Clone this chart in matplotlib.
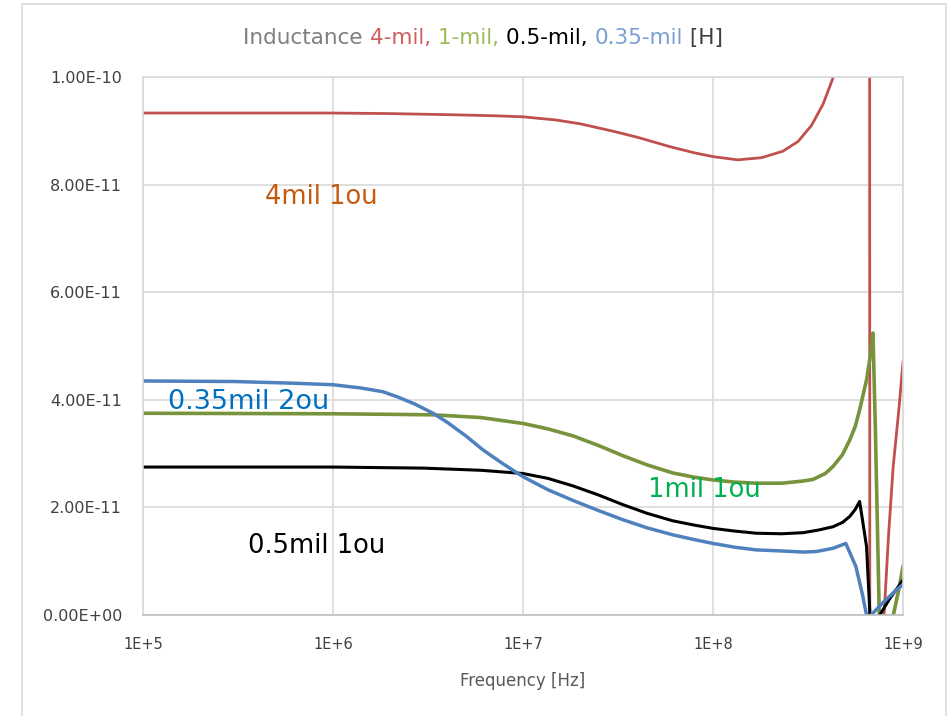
import numpy as np
import matplotlib
matplotlib.use("Agg")
import matplotlib.pyplot as plt
from matplotlib.ticker import FixedLocator, FuncFormatter, NullLocator
from matplotlib.patches import Rectangle

# frequency [Hz] and inductance [pH], one set per trace
f_4mil = [1e5, 3e5, 1e6, 2e6, 4e6, 7e6, 1e7, 1.5e7, 2e7, 3e7, 4e7, 6e7, 8e7,
          1e8, 1.35e8, 1.8e8, 2.33e8, 2.8e8, 3.3e8, 3.8e8, 4.3e8, 4.8e8,
          6e8, 6.65e8, 6.7e8, 7.5e8, 7.95e8, 8.4e8, 8.88e8, 9.5e8, 1e9]
L_4mil = [93.3, 93.3, 93.3, 93.2, 93.0, 92.8, 92.6, 92.0, 91.3, 89.9, 88.8, 87.0, 85.9,
          85.2, 84.6, 85.0, 86.2, 88.0, 91.0, 95.0, 100.0, 108.0,
          160.0, 300.0, -100.0, -20.0, 0.0, 15.0, 27.6, 38.0, 47.0]

f_1mil = [1e5, 1e6, 2e6, 3.4e6, 6e6, 1e7, 1.35e7, 1.83e7, 2.5e7, 3.36e7, 4.5e7,
          6.15e7, 8e7, 1e8, 1.3e8, 1.69e8, 2.3e8, 2.98e8, 3.36e8, 3.9e8, 4.28e8,
          4.8e8, 5.24e8, 5.6e8, 5.91e8, 6.43e8, 6.75e8, 6.95e8, 7.15e8, 7.5e8,
          8e8, 8.9e8, 9.5e8, 1e9]
L_1mil = [37.5, 37.4, 37.3, 37.2, 36.7, 35.6, 34.6, 33.3, 31.5, 29.6, 27.9,
          26.4, 25.6, 25.1, 24.7, 24.5, 24.5, 24.9, 25.2, 26.3, 27.6,
          29.8, 32.5, 35.0, 38.1, 43.7, 48.5, 52.4, 35.0, 0.0,
          -15.0, 0.0, 4.7, 9.0]

f_05mil = [1e5, 1e6, 3e6, 6e6, 1e7, 1.35e7, 1.83e7, 2.5e7, 3.36e7, 4.5e7, 6.15e7,
           8e7, 1e8, 1.3e8, 1.69e8, 2.3e8, 2.98e8, 3.6e8, 4.28e8, 4.8e8, 5.24e8,
           5.6e8, 5.91e8, 6.1e8, 6.43e8, 6.7e8, 7.1e8, 7.55e8, 8.5e8, 1e9]
L_05mil = [27.5, 27.5, 27.3, 26.9, 26.3, 25.4, 24.0, 22.3, 20.5, 18.9, 17.5,
           16.7, 16.1, 15.6, 15.2, 15.1, 15.3, 15.8, 16.4, 17.2, 18.3,
           19.6, 21.1, 18.0, 12.7, 0.0, -5.0, 0.0, 3.0, 6.5]

f_035mil = [1e5, 3e5, 6e5, 1e6, 1.4e6, 1.83e6, 2.2e6, 2.7e6, 3.36e6, 4e6, 5e6,
            6.15e6, 7.7e6, 1e7, 1.35e7, 1.83e7, 2.5e7, 3.36e7, 4.5e7, 6.15e7,
            8e7, 1e8, 1.3e8, 1.69e8, 2.3e8, 2.98e8, 3.5e8, 4.28e8, 5e8, 5.65e8,
            6.1e8, 6.43e8, 6.6e8, 6.8e8, 8e8, 9e8, 1e9]
L_035mil = [43.5, 43.4, 43.1, 42.8, 42.2, 41.5, 40.5, 39.2, 37.5, 35.8, 33.3,
            30.7, 28.3, 25.7, 23.3, 21.3, 19.4, 17.7, 16.2, 14.9,
            14.0, 13.3, 12.6, 12.1, 11.9, 11.7, 11.8, 12.4, 13.3, 9.0,
            4.0, 0.0, -1.0, 0.0, 2.6, 4.3, 5.7]

x_ticks = [1e5, 1e6, 1e7, 1e8, 1e9]
y_ticks = [0, 2e-11, 4e-11, 6e-11, 8e-11, 1e-10]

red = "#C0504D"
green = "#77933C"
blue = "#4F81BD"

fig = plt.figure(figsize=(9.48, 7.16), dpi=100)
fig.patches.append(Rectangle((22 / 948, -0.05), 924 / 948, 1.05 - 4 / 716,
                             transform=fig.transFigure, fill=False,
                             edgecolor="#D9D9D9", linewidth=1.2))
ax = fig.add_axes([143 / 948, 1 - 615 / 716, 760 / 948, 538 / 716])

pH = 1e-12
ax.plot(f_4mil, np.array(L_4mil) * pH, color=red, lw=2.0)
ax.plot(f_1mil, np.array(L_1mil) * pH, color=green, lw=2.6)
ax.plot(f_05mil, np.array(L_05mil) * pH, color="black", lw=2.2)
ax.plot(f_035mil, np.array(L_035mil) * pH, color=blue, lw=2.5)

ax.set_xscale("log")
ax.set_xlim(1e5, 1e9)
ax.set_ylim(0, 1e-10)
ax.xaxis.set_major_locator(FixedLocator(x_ticks))
ax.xaxis.set_minor_locator(NullLocator())
ax.xaxis.set_major_formatter(FuncFormatter(lambda v, p: "1E+%d" % round(np.log10(v))))
ax.yaxis.set_major_locator(FixedLocator(y_ticks))
ax.yaxis.set_major_formatter(FuncFormatter(lambda v, p: format(v, ".2E")))
ax.grid(True, color="#D9D9D9", lw=1.2)
ax.set_axisbelow(True)
for s in ax.spines.values():
    s.set_color("#D9D9D9")
    s.set_linewidth(1.2)
ax.spines["bottom"].set_color("#BFBFBF")
ax.tick_params(axis="y", length=0, labelsize=11.5, colors="#404040", pad=15)
ax.tick_params(axis="x", length=0, labelsize=10.5, colors="#404040", pad=16)
ax.set_xlabel("Frequency [Hz]", fontsize=12, color="#595959", labelpad=14)

# labels on the traces
ax.text(4.38e5, 77.7e-12, "4mil 1ou", color="#C55A11", fontsize=18.5, va="center")
ax.text(1.35e5, 39.6e-12, "0.35mil 2ou", color="#0070C0", fontsize=19.5, va="center")
ax.text(4.55e7, 23.2e-12, "1mil 1ou", color="#00B050", fontsize=18.5, va="center")
ax.text(3.57e5, 12.8e-12, "0.5mil 1ou", color="black", fontsize=18.5, va="center")

# multicolour title
parts = [("Inductance ", "#7F7F7F"), ("4-mil, ", "#D0605E"), ("1-mil, ", "#9BBB59"),
         ("0.5-mil, ", "black"), ("0.35-mil", "#7A9FD4"), (" [H]", "#404040")]
r = fig.canvas.get_renderer()
texts = []
x = 0.0
for s, c in parts:
    t = fig.text(x, 1 - 38 / 716, s, color=c, fontsize=15.5, va="center")
    w = t.get_window_extent(r).width / fig.bbox.width
    texts.append((t, x))
    x += w
start = 483 / 948 - x / 2
for t, x0 in texts:
    t.set_x(start + x0)

fig.savefig("out.png", dpi=100)
